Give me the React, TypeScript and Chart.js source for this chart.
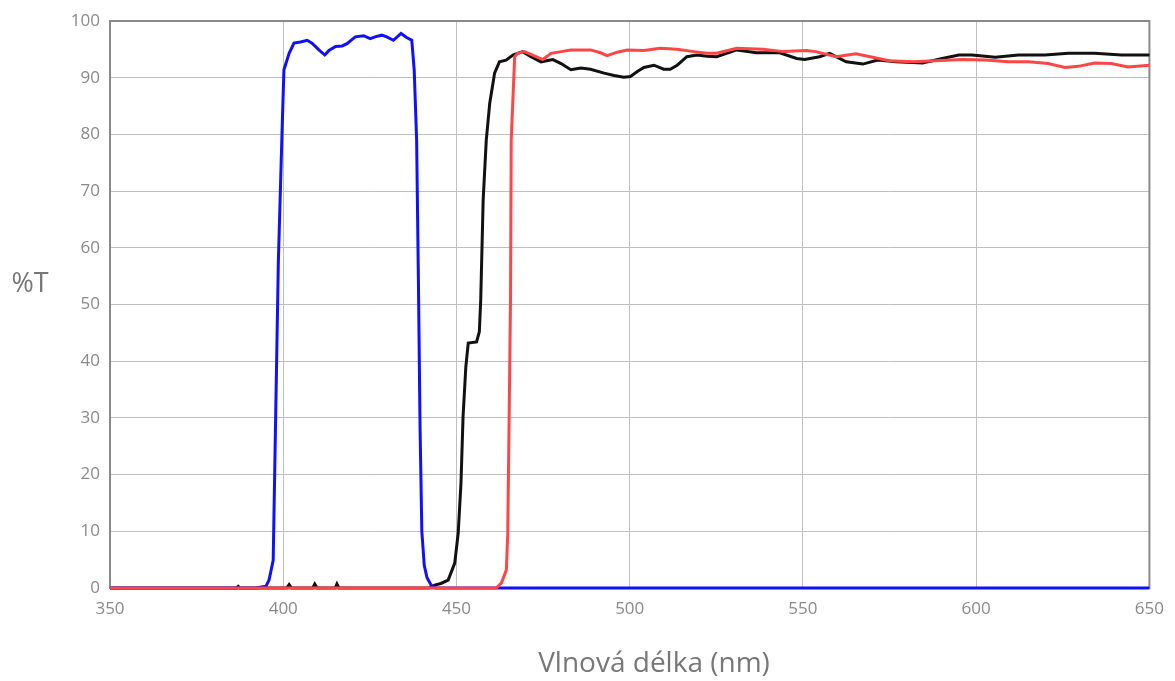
import React, { useEffect, useRef } from 'react';
import Chart from 'chart.js/auto';

const xTitle = 'Vlnová délka (nm)';
const yTitle = '%T';

const blueX = [350, 392, 395, 395.9, 397.1, 397.6, 398.6, 399.7, 400.2, 401.7, 403.1, 405, 406.9, 408.3, 410.3, 412, 413.2, 415.1, 417, 418.4, 420.8, 423.2, 425.1, 426.5, 428.4, 429.9, 431.8, 434, 435.6, 437.1, 437.8, 438.5, 439, 439.5, 440, 440.7, 441.5, 442.7, 444, 650];
const blueY = [0, 0, 0.3, 1.4, 4.9, 22.6, 57.8, 81.4, 91.4, 94.3, 96.1, 96.3, 96.6, 96.1, 94.9, 94.0, 94.8, 95.5, 95.6, 96.0, 97.2, 97.4, 96.9, 97.2, 97.5, 97.2, 96.6, 97.8, 97.1, 96.6, 91.4, 79, 55, 28, 10, 4, 1.8, 0.5, 0, 0];

const blackX = [350, 386.5, 387, 387.5, 401, 401.7, 402.4, 408.5, 409.1, 409.8, 415, 415.5, 416.1, 442, 443.7, 445.5, 447.6, 449.5, 450.5, 451.3, 451.9, 452.7, 453.4, 455.8, 456.6, 457.0, 457.7, 458.6, 459.6, 461.0, 462.4, 464.3, 466.3, 469.1, 471.5, 474.4, 477.8, 480.2, 483, 485.9, 488.7, 492.6, 495.5, 498.3, 500.2, 502.2, 504.1, 507, 509.8, 511.7, 513.7, 516.5, 519.4, 522.3, 525.1, 530.9, 536.6, 543.3, 548.2, 550.5, 554.8, 557.7, 562.5, 567.3, 571.6, 576.8, 584.5, 590.2, 595, 598.8, 605.5, 612.2, 619.9, 626.6, 634.2, 641.9, 650];
const blackY = [0, 0, 0.3, 0, 0, 0.6, 0, 0, 0.7, 0, 0, 0.7, 0, 0, 0.5, 0.8, 1.4, 4.4, 9.7, 18.5, 30.2, 39, 43.2, 43.4, 45.2, 50.8, 68.4, 79, 85.5, 90.8, 92.8, 93.1, 94.0, 94.6, 93.7, 92.8, 93.2, 92.5, 91.4, 91.7, 91.5, 90.8, 90.4, 90.1, 90.2, 91.1, 91.8, 92.2, 91.5, 91.5, 92.2, 93.7, 94.0, 93.8, 93.7, 94.9, 94.4, 94.4, 93.4, 93.2, 93.7, 94.3, 92.8, 92.4, 93.1, 92.8, 92.6, 93.4, 94.0, 94.0, 93.6, 94.0, 94.0, 94.3, 94.3, 94.0, 94.0];

const redX = [350, 461.5, 462, 463, 464.4, 464.8, 465.2, 465.6, 465.8, 466.8, 467.7, 469.6, 472, 474.9, 477.3, 480.2, 483, 488.7, 491.6, 493.5, 496.4, 499.3, 504.1, 508.8, 513.7, 518.5, 522.3, 525.1, 530.9, 538.5, 544.3, 550.9, 553.7, 559.6, 565.3, 570.1, 574.9, 581.6, 588.3, 596, 602.6, 609.3, 615.1, 620.8, 625.6, 629.4, 634.2, 639, 643.8, 650];
const redY = [0, 0, 0.3, 0.9, 3.2, 9.7, 30, 51, 79, 93.7, 94.3, 94.6, 94.0, 93.2, 94.3, 94.6, 94.9, 94.9, 94.4, 93.9, 94.5, 94.9, 94.8, 95.2, 95.0, 94.6, 94.3, 94.3, 95.2, 95.0, 94.6, 94.8, 94.6, 93.7, 94.2, 93.6, 93.0, 92.8, 93.0, 93.2, 93.1, 92.8, 92.8, 92.5, 91.8, 92.0, 92.6, 92.5, 91.9, 92.2];

const toPoints = (xs: number[], ys: number[]) => xs.map((x, i) => ({ x, y: ys[i] }));

const framePlugin = {
  id: 'frameAndTitles',
  beforeDatasetsDraw(chart: any) {
    const { ctx, chartArea } = chart;
    ctx.save();
    ctx.strokeStyle = '#8a8a8a';
    ctx.lineWidth = 2;
    ctx.strokeRect(chartArea.left, chartArea.top, chartArea.right - chartArea.left, chartArea.bottom - chartArea.top);
    ctx.restore();
  },
  afterDraw(chart: any) {
    const { ctx } = chart;
    ctx.save();
    ctx.fillStyle = '#777777';
    ctx.textAlign = 'center';
    ctx.textBaseline = 'middle';
    ctx.font = '27px "Open Sans"';
    ctx.fillText(yTitle, 30, 284);
    ctx.font = '28px "Open Sans"';
    ctx.fillText(xTitle, 654, 664);
    ctx.restore();
  },
};

export default function App() {
  const ref = useRef<HTMLCanvasElement>(null);
  useEffect(() => {
    document.body.style.margin = '0';
    const chart = new Chart(ref.current!, {
      type: 'line',
      data: {
        datasets: [
          { label: 'black', data: toPoints(blackX, blackY), borderColor: '#111111', borderWidth: 3, pointRadius: 0, tension: 0, clip: false as any, order: 3 },
          { label: 'blue', data: toPoints(blueX, blueY), borderColor: '#1010ff', borderWidth: 3, pointRadius: 0, tension: 0, clip: false as any, order: 2 },
          { label: 'red', data: toPoints(redX, redY), borderColor: '#ff4646', borderWidth: 3, pointRadius: 0, tension: 0, clip: false as any, order: 1 },
        ],
      },
      options: {
        animation: false,
        responsive: true,
        maintainAspectRatio: false,
        layout: { padding: { top: 21, right: 20, left: 0, bottom: 0 } },
        plugins: { legend: { display: false }, tooltip: { enabled: false } },
        scales: {
          x: {
            type: 'linear',
            min: 350,
            max: 650,
            ticks: { stepSize: 50, color: '#8a8a8a', font: { family: 'Open Sans', size: 17 }, padding: 11, maxRotation: 0 },
            grid: { color: '#c0c0c0', lineWidth: 1, drawTicks: false },
            border: { display: false },
            afterFit: (s: any) => { s.height = 93; },
          },
          y: {
            min: 0,
            max: 100,
            ticks: { stepSize: 10, color: '#8a8a8a', font: { family: 'Open Sans', size: 17 }, padding: 10 },
            grid: { color: '#c0c0c0', lineWidth: 1, drawTicks: false },
            border: { display: false },
            afterFit: (s: any) => { s.width = 110; },
          },
        },
      },
      plugins: [framePlugin],
    });
    return () => chart.destroy();
  }, []);
  return (
    <div style={{ width: 1175, height: 681, position: 'relative' }}>
      <canvas ref={ref} />
    </div>
  );
}
